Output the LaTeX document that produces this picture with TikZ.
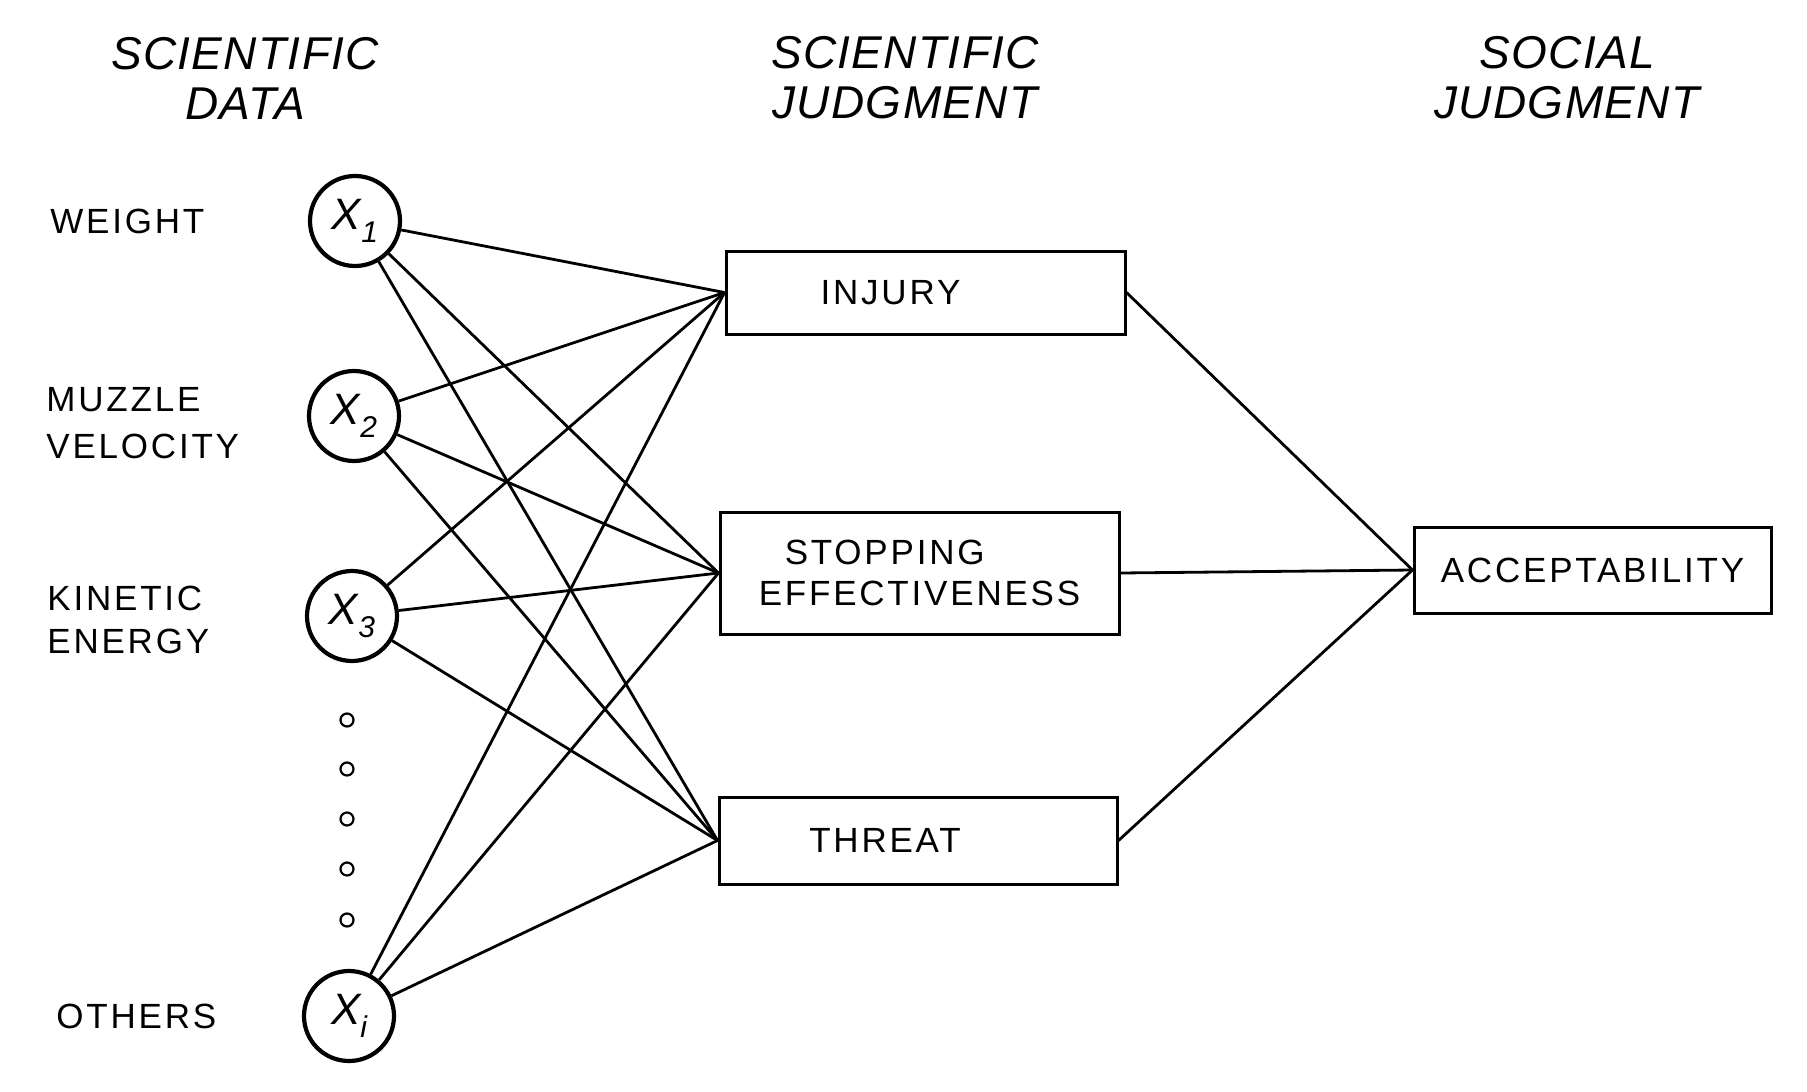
\documentclass[tikz,border=0pt]{standalone}
\usepackage{fontspec}
\setmainfont{Liberation Sans}
\newfontfamily\labfont{Liberation Sans}[LetterSpace=8]
\newfontfamily\hdrfont{Liberation Sans}[LetterSpace=3]
\begin{document}
\begin{tikzpicture}[x=0.5pt,y=-0.5pt,
  hdr/.style={font=\hdrfont\itshape\fontsize{23}{25}\selectfont, align=center, inner sep=0pt},
  lab/.style={font=\labfont\fontsize{17.5}{23.5}\selectfont, align=left, anchor=west, inner sep=0pt},
  circ/.style={circle, draw, line width=2.1pt, minimum size=45pt, inner sep=0pt, font=\itshape\fontsize{22}{22}\selectfont},
  dotc/.style={circle, draw, line width=1.1pt, minimum size=6.5pt, inner sep=0pt},
  box/.style={rectangle, draw, line width=1.5pt, inner sep=0pt, font=\labfont\fontsize{17.5}{20.5}\selectfont},
  conn/.style={line width=1.4pt}]
\useasboundingbox (0,0) rectangle (1807,1091);

% headers
\node[hdr] (h1) at (245,78) {SCIENTIFIC\\DATA};
\node[hdr] (h2) at (905,78) {SCIENTIFIC\\JUDGMENT};
\node[hdr] (h3) at (1567,78) {SOCIAL\\JUDGMENT};

% left labels
\node[lab] (lw) at (50,221) {WEIGHT};
\node[lab] (lm) at (46,423) {MUZZLE\\VELOCITY};
\node[lab, font=\labfont\fontsize{17.5}{21.5}\selectfont] (lk) at (47,620) {KINETIC\\ENERGY};
\node[lab] (lo) at (56,1016) {OTHERS};

% circles
\node[circ] (x1) at (355,221) {X\raisebox{-0.3em}{\fontsize{15}{15}\selectfont 1}};
\node[circ] (x2) at (354,416) {X\raisebox{-0.3em}{\fontsize{15}{15}\selectfont 2}};
\node[circ] (x3) at (352,616) {X\raisebox{-0.3em}{\fontsize{15}{15}\selectfont 3}};
\node[circ] (xi) at (349,1016) {X\raisebox{-0.3em}{\fontsize{15}{15}\selectfont i}};

% dots
\node[dotc] (d1) at (347,720) {};
\node[dotc] (d2) at (347,769) {};
\node[dotc] (d3) at (347,819) {};
\node[dotc] (d4) at (347,869) {};
\node[dotc] (d5) at (347,920) {};

% boxes
\node[box, minimum width=199.5pt, minimum height=41.5pt] (inj) at (925.5,292.5) {INJURY\hspace{35pt}\mbox{}};
\node[box, minimum width=199.5pt, minimum height=61pt, align=left] (stop) at (919.5,573) {\hspace*{13pt}STOPPING\\EFFECTIVENESS};
\node[box, minimum width=199pt, minimum height=43.5pt] (thr) at (918,840.5) {THREAT\hspace{33pt}\mbox{}};
\node[box, minimum width=178.5pt, minimum height=43pt] (acc) at (1592.5,570) {ACCEPTABILITY};

% connectors
\foreach \s in {x1,x2,x3,xi}
  \foreach \t in {inj,stop,thr}
    \draw[conn] (\s) -- (\t.west);
\foreach \t in {inj,stop,thr}
  \draw[conn] (\t.east) -- (acc.west);
\end{tikzpicture}
\end{document}
